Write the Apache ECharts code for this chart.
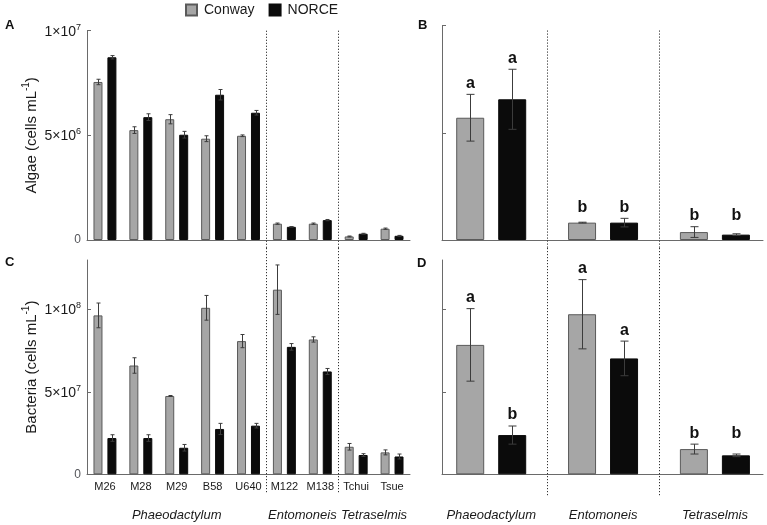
<!DOCTYPE html>
<html><head><meta charset="utf-8">
<script src="https://cdn.jsdelivr.net/npm/echarts@6/dist/echarts.min.js"></script>
<style>html,body{margin:0;padding:0;background:#fff}#c{width:767px;height:525px}</style>
</head><body><div id="c"></div>
<script>
// ---------- data ----------
const strains = ['M26','M28','M29','B58','U640','M122','M138','Tchui','Tsue'];
const genera = ['Phaeodactylum','Entomoneis','Tetraselmis'];
const strainsPerGenus = [5, 2, 2];

// Panel A: algae per strain
const algaeConway    = [7.55e6, 5.25e6, 5.77e6, 4.84e6, 4.98e6, 0.78e6, 0.78e6, 0.17e6, 0.54e6];
const algaeConwayErr = [0.13e6, 0.16e6, 0.22e6, 0.14e6, 0.04e6, 0.03e6, 0.03e6, 0.02e6, 0.03e6];
const algaeNorce     = [8.73e6, 5.87e6, 5.03e6, 6.94e6, 6.08e6, 0.63e6, 0.95e6, 0.30e6, 0.20e6];
const algaeNorceErr  = [0.08e6, 0.16e6, 0.16e6, 0.25e6, 0.11e6, 0.01e6, 0.03e6, 0.02e6, 0.02e6];

// Panel C: bacteria per strain
const bactConway    = [9.64e7, 6.60e7, 4.75e7, 1.01e8, 8.08e7, 1.12e8, 8.18e7, 1.67e7, 1.33e7];
const bactConwayErr = [0.75e7, 0.47e7, 0.03e7, 0.75e7, 0.40e7, 1.50e7, 0.16e7, 0.20e7, 0.15e7];
const bactNorce     = [2.20e7, 2.20e7, 1.61e7, 2.75e7, 2.95e7, 7.73e7, 6.24e7, 1.17e7, 1.08e7];
const bactNorceErr  = [0.20e7, 0.20e7, 0.20e7, 0.34e7, 0.14e7, 0.20e7, 0.18e7, 0.08e7, 0.15e7];

// Panel B: algae per genus
const genAlgaeConway    = [5.70e6, 0.81e6, 0.37e6];
const genAlgaeConwayErr = [1.09e6, 0.02e6, 0.25e6];
const genAlgaeNorce     = [6.56e6, 0.81e6, 0.25e6];
const genAlgaeNorceErr  = [1.40e6, 0.20e6, 0.04e6];
const genAlgaeConwayLetters = ['a','b','b'];
const genAlgaeNorceLetters  = ['a','b','b'];

// Panel D: bacteria per genus
const genBactConway    = [7.85e7, 9.71e7, 1.53e7];
const genBactConwayErr = [2.20e7, 2.10e7, 0.30e7];
const genBactNorce     = [2.38e7, 7.03e7, 1.15e7];
const genBactNorceErr  = [0.55e7, 1.05e7, 0.08e7];
const genBactConwayLetters = ['a','a','b'];
const genBactNorceLetters  = ['b','a','b'];

const algaeTicks = [0, 5e6, 1e7];
const bactTicks  = [0, 5e7, 1e8];

// ---------- styles ----------
const FONT = '"Liberation Sans", Arial, sans-serif';
const TXT = '#1a1a1a';
const GREY = '#a6a6a6', GREY_BORDER = '#5a5a5a', BLACK = '#0b0b0b', AXIS = '#6a6a6a';

function sci(v){
  if (v === 0) return '0';
  const e = Math.floor(Math.log10(v) + 1e-9);
  const m = Math.round(v / Math.pow(10, e) * 100) / 100;
  return '{n|' + m + '×10}{sup|' + e + '}';
}
const labelRich = {
  n: {fontSize: 14, fontFamily: FONT, color: TXT, lineHeight: 16, verticalAlign: 'bottom'},
  sup: {fontSize: 9, fontFamily: FONT, color: TXT, lineHeight: 16, verticalAlign: 'top'}
};
const nameRich = {
  n: {fontSize: 15, fontFamily: FONT, color: TXT, lineHeight: 18, verticalAlign: 'bottom'},
  sup: {fontSize: 10, fontFamily: FONT, color: TXT, lineHeight: 18, verticalAlign: 'top'}
};

// boundaries between genera
const cum = []; strainsPerGenus.reduce((a, c) => { cum.push(a + c); return a + c; }, 0);
const strainBounds = cum.slice(0, -1).map(k => [k - 1, k]);
const genusBounds = genera.slice(0, -1).map((g, i) => [i, i + 1]);
const genusCenters = strainsPerGenus.map((c, i) => (cum[i] - c + cum[i]) / 2);

const grids = [
  {left: 87,  top: 30.7, width: 323, height: 209.3},
  {left: 442, top: 25.5, width: 321, height: 214.5},
  {left: 87,  top: 260,  width: 323, height: 214.3},
  {left: 442, top: 260,  width: 321, height: 214.3}
].map(g => Object.assign({containLabel: false, outerBoundsMode: 'none'}, g));

function catAxis(gi, showLabels){
  return {
    type: 'category', gridIndex: gi, data: strains,
    axisLine: {show: true, onZero: false, lineStyle: {color: AXIS, width: 1}},
    axisTick: {show: false},
    axisLabel: {show: showLabels, interval: 0, margin: 7, fontSize: 11, fontFamily: FONT, color: TXT},
    splitLine: {show: false}
  };
}
function genAxis(gi, showLabels){
  return {
    type: 'value', gridIndex: gi, min: -0.44, max: 2.43,
    axisLine: {show: true, onZero: false, lineStyle: {color: AXIS, width: 1}},
    axisTick: {show: false},
    axisLabel: {show: showLabels, customValues: genera.map((g, i) => i), margin: 35,
      fontSize: 13, fontStyle: 'italic', fontFamily: FONT, color: TXT,
      formatter: v => genera[Math.round(v)]},
    splitLine: {show: false}
  };
}
function valAxis(gi, max, ticks, showLabels, name){
  const ax = {
    type: 'value', gridIndex: gi, min: 0, max: max,
    axisLine: {show: true, onZero: false, lineStyle: {color: AXIS, width: 1}},
    axisTick: {show: true, inside: true, length: 4, customValues: ticks, lineStyle: {color: AXIS}},
    axisLabel: {show: showLabels, customValues: ticks, margin: 6, formatter: sci, rich: labelRich},
    splitLine: {show: false}
  };
  if (name) {
    ax.name = '{n|' + name + '}{sup|-1}{n|)}';
    ax.nameLocation = 'middle';
    ax.nameGap = 48;
    ax.nameTextStyle = {rich: nameRich};
  }
  return ax;
}

function bars(xi, yi, xs, vals, name, width, gap){
  const isConway = name === 'Conway';
  return {
    type: 'bar', name: name, xAxisIndex: xi, yAxisIndex: yi,
    data: vals.map((v, i) => [xs[i], v]),
    barWidth: width, barGap: gap,
    itemStyle: {color: isConway ? GREY : BLACK, borderColor: isConway ? GREY_BORDER : BLACK, borderWidth: 1},
    emphasis: {disabled: true}, animation: false
  };
}

function errSeries(xi, yi, xs, cv, ce, nv, ne, offset, cap, cL, nL){
  return {
    type: 'custom', xAxisIndex: xi, yAxisIndex: yi, clip: false, silent: true, z: 10, animation: false,
    data: xs.map((x, i) => [x, cv[i], ce[i], nv[i], ne[i], i]),
    renderItem(params, api){
      const x = api.value(0), idx = api.value(5);
      const pairs = [
        [api.value(1), api.value(2), -offset, cL ? cL[idx] : null],
        [api.value(3), api.value(4), offset, nL ? nL[idx] : null]
      ];
      const tops = pairs.map(p => api.coord([x, p[0] + p[1]])[1]);
      const children = [];
      pairs.forEach((p, k) => {
        const t = api.coord([x, p[0] + p[1]]);
        const b = api.coord([x, p[0] - p[1]]);
        const cx = Math.round(t[0] + p[2]) + 0.5;
        const st = {stroke: '#3c3c3c', lineWidth: 1};
        children.push({type: 'line', shape: {x1: cx, y1: t[1], x2: cx, y2: b[1]}, style: st});
        children.push({type: 'line', shape: {x1: cx - cap / 2, y1: t[1], x2: cx + cap / 2, y2: t[1]}, style: st});
        children.push({type: 'line', shape: {x1: cx - cap / 2, y1: b[1], x2: cx + cap / 2, y2: b[1]}, style: st});
        if (p[3]) {
          let ty = tops[k];
          const other = tops[1 - k];
          if (Math.abs(other - ty) < 20) ty = Math.min(ty, other);
          children.push({type: 'text', style: {text: p[3], x: cx, y: ty - 11, align: 'center', verticalAlign: 'middle',
            font: 'bold 16px ' + FONT, fill: '#111'}});
        }
      });
      return {type: 'group', children: children};
    }
  };
}

function sepSeries(xi, yi, bounds, extTop, extBottom){
  return {
    type: 'custom', xAxisIndex: xi, yAxisIndex: yi, clip: false, silent: true, z: 1, animation: false,
    data: bounds.map(b => [b[0], b[1]]),
    renderItem(params, api){
      const cs = params.coordSys;
      const x = Math.round((api.coord([api.value(0), 0])[0] + api.coord([api.value(1), 0])[0]) / 2) + 0.5;
      return {type: 'line', shape: {x1: x, y1: cs.y + extTop, x2: x, y2: cs.y + cs.height + extBottom},
        style: {stroke: '#333', lineWidth: 1, lineDash: [1.2, 1.8]}};
    },
    encode: {x: 0, y: -1}
  };
}

const strainIdx = strains.map((s, i) => i);
const genusIdx = genera.map((g, i) => i);

const option = {
  backgroundColor: '#fff',
  animation: false,
  textStyle: {fontFamily: FONT},
  legend: {
    data: ['Conway', 'NORCE'], left: 185, top: 3, padding: 0, itemWidth: 11, itemHeight: 11, itemGap: 14,
    icon: 'rect', selectedMode: false,
    textStyle: {fontSize: 14, fontFamily: FONT, color: TXT, padding: [0, 0, 0, 2]}
  },
  graphic: [
    {type: 'text', left: 5, top: 19, style: {text: 'A', font: 'bold 13px ' + FONT, fill: '#111'}},
    {type: 'text', left: 418, top: 19, style: {text: 'B', font: 'bold 13px ' + FONT, fill: '#111'}},
    {type: 'text', left: 5, top: 256, style: {text: 'C', font: 'bold 13px ' + FONT, fill: '#111'}},
    {type: 'text', left: 417, top: 257, style: {text: 'D', font: 'bold 13px ' + FONT, fill: '#111'}}
  ],
  grid: grids,
  xAxis: [
    catAxis(0, false),
    genAxis(1, false),
    catAxis(2, true),
    genAxis(3, true),
    {
      type: 'value', gridIndex: 2, min: 0, max: strains.length, position: 'bottom',
      axisLine: {show: false, onZero: false}, axisTick: {show: false}, splitLine: {show: false},
      axisLabel: {show: true, customValues: genusCenters, margin: 35, fontSize: 13, fontStyle: 'italic',
        fontFamily: FONT, color: TXT, formatter: v => genera[genusCenters.indexOf(v)]}
    }
  ],
  yAxis: [
    valAxis(0, 1e7, algaeTicks, true, 'Algae (cells mL'),
    valAxis(1, 1e7, algaeTicks, false),
    valAxis(2, 1.3e8, bactTicks, true, 'Bacteria (cells mL'),
    valAxis(3, 1.3e8, bactTicks, false)
  ],
  series: [
    sepSeries(0, 0, strainBounds, 0, 8),
    sepSeries(1, 1, genusBounds, 5, 8),
    sepSeries(2, 2, strainBounds, -12, 19),
    sepSeries(3, 3, genusBounds, -12, 21),

    bars(0, 0, strainIdx, algaeConway, 'Conway', 9, '55%'),
    bars(0, 0, strainIdx, algaeNorce, 'NORCE', 9, '55%'),
    bars(1, 1, genusIdx, genAlgaeConway, 'Conway', 28, '50%'),
    bars(1, 1, genusIdx, genAlgaeNorce, 'NORCE', 28, '50%'),
    bars(2, 2, strainIdx, bactConway, 'Conway', 9, '55%'),
    bars(2, 2, strainIdx, bactNorce, 'NORCE', 9, '55%'),
    bars(3, 3, genusIdx, genBactConway, 'Conway', 28, '50%'),
    bars(3, 3, genusIdx, genBactNorce, 'NORCE', 28, '50%'),

    errSeries(0, 0, strainIdx, algaeConway, algaeConwayErr, algaeNorce, algaeNorceErr, 7, 4),
    errSeries(1, 1, genusIdx, genAlgaeConway, genAlgaeConwayErr, genAlgaeNorce, genAlgaeNorceErr, 21, 8,
      genAlgaeConwayLetters, genAlgaeNorceLetters),
    errSeries(2, 2, strainIdx, bactConway, bactConwayErr, bactNorce, bactNorceErr, 7, 4),
    errSeries(3, 3, genusIdx, genBactConway, genBactConwayErr, genBactNorce, genBactNorceErr, 21, 8,
      genBactConwayLetters, genBactNorceLetters)
  ]
};

const chart = echarts.init(document.getElementById('c'), null, {renderer: 'canvas'});
chart.setOption(option);
</script>
</body></html>
